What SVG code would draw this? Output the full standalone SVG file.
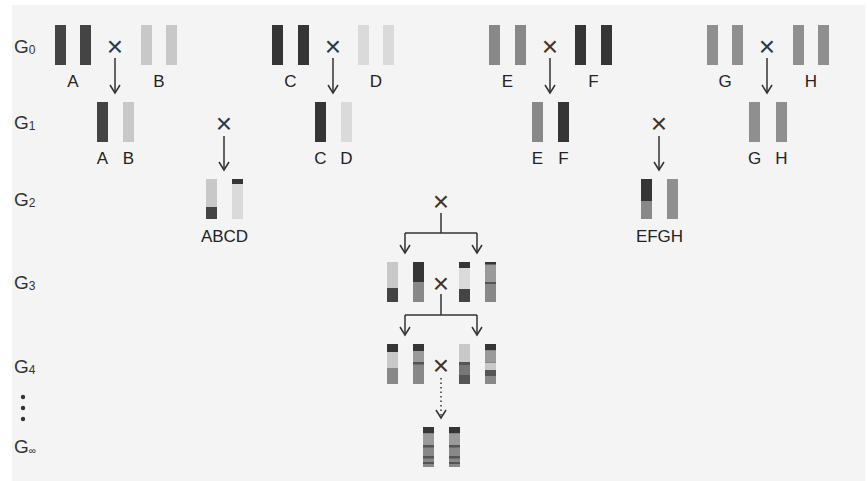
<svg xmlns="http://www.w3.org/2000/svg" width="867" height="481" viewBox="0 0 867 481">
<defs>
<style>
.t{font-family:"Liberation Sans",Arial,sans-serif;font-size:17px;fill:#222;text-anchor:middle}
.g{font-family:"Liberation Sans",Arial,sans-serif;font-size:19px;fill:#333}
.sub{font-size:12px}
.x{font-family:"Liberation Sans",Arial,sans-serif;font-size:28px;fill:#333;text-anchor:middle}
.ln{fill:none;stroke:#333;stroke-width:1.5}
.dk{fill:#444}
.ck{fill:#353535}
.md{fill:#888}
.mg{fill:#8f8f8f}
.lt{fill:#c8c8c8}
.vl{fill:#dadada}
.m9{fill:#9a9a9a}
.m7{fill:#777}
.d5{fill:#555}
</style>
<marker id="ah" viewBox="-10 -7 12 14" markerWidth="12" markerHeight="14" refX="0" refY="0" orient="auto" markerUnits="userSpaceOnUse">
<path d="M-8,-5 L0,0 L-8,5" fill="none" stroke="#333" stroke-width="1.5"/>
</marker>
</defs>
<rect width="867" height="481" fill="#fff"/>
<rect x="12" y="5" width="853" height="476" fill="#f4f4f4"/>

<g id="gen-labels">
<text class="g" x="14" y="53">G<tspan class="sub" dy="1">0</tspan></text>
<text class="g" x="14" y="129">G<tspan class="sub" dy="1">1</tspan></text>
<text class="g" x="14" y="206">G<tspan class="sub" dy="1">2</tspan></text>
<text class="g" x="14" y="289">G<tspan class="sub" dy="1">3</tspan></text>
<text class="g" x="14" y="373">G<tspan class="sub" dy="1">4</tspan></text>
<circle cx="23" cy="397" r="2.2" fill="#333"/>
<circle cx="23" cy="408" r="2.2" fill="#333"/>
<circle cx="23" cy="419" r="2.2" fill="#333"/>
<text class="g" x="14" y="453">G<tspan class="sub" dy="1" style="font-size:10px">∞</tspan></text>
</g>

<!-- G0 -->
<g id="g0-A"><rect class="dk" x="55" y="25" width="11" height="40"/><rect class="dk" x="80" y="25" width="11" height="40"/><text class="t" x="73" y="87">A</text></g>
<g id="g0-B"><rect class="lt" x="141" y="25" width="11" height="40"/><rect class="lt" x="166" y="25" width="11" height="40"/><text class="t" x="159" y="87">B</text></g>
<g id="g0-C"><rect class="ck" x="272" y="25" width="11" height="40"/><rect class="ck" x="298" y="25" width="11" height="40"/><text class="t" x="290.5" y="87">C</text></g>
<g id="g0-D"><rect class="vl" x="358" y="25" width="11" height="40"/><rect class="vl" x="383" y="25" width="11" height="40"/><text class="t" x="376" y="87">D</text></g>
<g id="g0-E"><rect class="md" x="489" y="25" width="11" height="40"/><rect class="md" x="515" y="25" width="11" height="40"/><text class="t" x="507.5" y="87">E</text></g>
<g id="g0-F"><rect class="ck" x="575" y="25" width="11" height="40"/><rect class="ck" x="601" y="25" width="11" height="40"/><text class="t" x="593.5" y="87">F</text></g>
<g id="g0-G"><rect class="mg" x="707" y="25" width="11" height="40"/><rect class="mg" x="732" y="25" width="11" height="40"/><text class="t" x="725" y="87">G</text></g>
<g id="g0-H"><rect class="mg" x="793" y="25" width="11" height="40"/><rect class="mg" x="818" y="25" width="11" height="40"/><text class="t" x="811" y="87">H</text></g>

<!-- G1 -->
<g id="g1-AB"><rect class="dk" x="97" y="102" width="11" height="40"/><rect class="lt" x="123" y="102" width="11" height="40"/><text class="t" x="102.5" y="164">A</text><text class="t" x="128.5" y="164">B</text></g>
<g id="g1-CD"><rect class="ck" x="315" y="102" width="11" height="40"/><rect class="vl" x="341" y="102" width="11" height="40"/><text class="t" x="320.5" y="164">C</text><text class="t" x="346.5" y="164">D</text></g>
<g id="g1-EF"><rect class="md" x="532" y="102" width="11" height="40"/><rect class="ck" x="558" y="102" width="11" height="40"/><text class="t" x="537.5" y="164">E</text><text class="t" x="563.5" y="164">F</text></g>
<g id="g1-GH"><rect class="mg" x="749" y="102" width="11" height="40"/><rect class="mg" x="776" y="102" width="11" height="40"/><text class="t" x="754.5" y="164">G</text><text class="t" x="781.5" y="164">H</text></g>

<!-- G2 -->
<g id="g2-ABCD">
<rect class="lt" x="206" y="179" width="11" height="40"/><rect class="dk" x="206" y="207" width="11" height="12"/>
<rect class="vl" x="232" y="179" width="11" height="40"/><rect class="ck" x="232" y="179" width="11" height="5"/>
<text class="t" x="224.5" y="242">ABCD</text>
</g>
<g id="g2-EFGH">
<rect class="md" x="641" y="179" width="11" height="40"/><rect class="ck" x="641" y="179" width="11" height="22"/>
<rect class="mg" x="667" y="179" width="11" height="40"/>
<text class="t" x="659.5" y="242">EFGH</text>
</g>

<!-- G3 -->
<g id="g3">
<rect class="lt" x="387" y="262" width="11" height="40"/><rect class="dk" x="387" y="288" width="11" height="14"/>
<rect class="md" x="413" y="262" width="11" height="40"/><rect class="ck" x="413" y="262" width="11" height="20"/>
<rect class="vl" x="459" y="262" width="11" height="40"/><rect class="ck" x="459" y="262" width="11" height="6"/><rect class="dk" x="459" y="289" width="11" height="13"/>
<rect class="md" x="485" y="262" width="11" height="40"/><rect class="m9" x="485" y="264" width="11" height="18"/><rect class="ck" x="485" y="262" width="11" height="2.5"/><rect class="d5" x="485" y="282" width="11" height="2"/>
</g>

<!-- G4 -->
<g id="g4">
<rect class="md" x="387" y="344" width="11" height="40"/><rect class="lt" x="387" y="352" width="11" height="16"/><rect class="ck" x="387" y="344" width="11" height="8"/>
<rect class="md" x="413" y="344" width="11" height="40"/><rect class="m9" x="413" y="351" width="11" height="11"/><rect class="ck" x="413" y="344" width="11" height="7"/><rect class="d5" x="413" y="362" width="11" height="2.5"/>
<rect class="m7" x="459" y="344" width="11" height="40"/><rect class="lt" x="459" y="344" width="11" height="18"/><rect class="d5" x="459" y="362" width="11" height="3"/><rect class="d5" x="459" y="375" width="11" height="9"/>
<rect class="md" x="485" y="344" width="11" height="40"/><rect class="ck" x="485" y="344" width="11" height="6"/><rect class="m9" x="485" y="351" width="11" height="11"/><rect class="lt" x="485" y="363" width="11" height="7"/><rect class="d5" x="485" y="370" width="11" height="6"/>
</g>

<!-- G infinity -->
<g id="ginf">
<rect class="md" x="423" y="427" width="11" height="40"/><rect class="m9" x="423" y="434" width="11" height="11"/><rect class="ck" x="423" y="427" width="11" height="6"/><rect class="d5" x="423" y="445" width="11" height="2.5"/><rect class="d5" x="423" y="456" width="11" height="2.5"/><rect class="d5" x="423" y="462" width="11" height="2"/>
<rect class="md" x="449" y="427" width="11" height="40"/><rect class="m9" x="449" y="434" width="11" height="11"/><rect class="ck" x="449" y="427" width="11" height="6"/><rect class="d5" x="449" y="445" width="11" height="2.5"/><rect class="d5" x="449" y="456" width="11" height="2.5"/><rect class="d5" x="449" y="462" width="11" height="2"/>
</g>

<g id="crosses" opacity="0.99">
<text class="x" x="115" y="56">×</text>
<text class="x" x="333" y="56">×</text>
<text class="x" x="550" y="56">×</text>
<text class="x" x="767" y="56">×</text>
<text class="x" x="224" y="133">×</text>
<text class="x" x="659" y="133">×</text>
<text class="x" x="441" y="211">×</text>
<text class="x" x="441" y="293">×</text>
<text class="x" x="441" y="375">×</text>
</g>

<g id="connectors">
<line class="ln" x1="115" y1="58" x2="115" y2="93" marker-end="url(#ah)"/>
<line class="ln" x1="333" y1="58" x2="333" y2="93" marker-end="url(#ah)"/>
<line class="ln" x1="550" y1="58" x2="550" y2="93" marker-end="url(#ah)"/>
<line class="ln" x1="767" y1="58" x2="767" y2="93" marker-end="url(#ah)"/>
<line class="ln" x1="224" y1="136" x2="224" y2="170" marker-end="url(#ah)"/>
<line class="ln" x1="659" y1="136" x2="659" y2="170" marker-end="url(#ah)"/>
<path class="ln" d="M441,213 V233 M405,233 H477"/>
<line class="ln" x1="405" y1="233" x2="405" y2="253" marker-end="url(#ah)"/>
<line class="ln" x1="477" y1="233" x2="477" y2="253" marker-end="url(#ah)"/>
<path class="ln" d="M441,294 V315 M405,315 H477"/>
<line class="ln" x1="405" y1="315" x2="405" y2="335" marker-end="url(#ah)"/>
<line class="ln" x1="477" y1="315" x2="477" y2="335" marker-end="url(#ah)"/>
<line class="ln" x1="441" y1="378" x2="441" y2="417" stroke-dasharray="1.5 3"/>
<path class="ln" d="M436,410 L441,418 L446,410"/>
</g>
</svg>
